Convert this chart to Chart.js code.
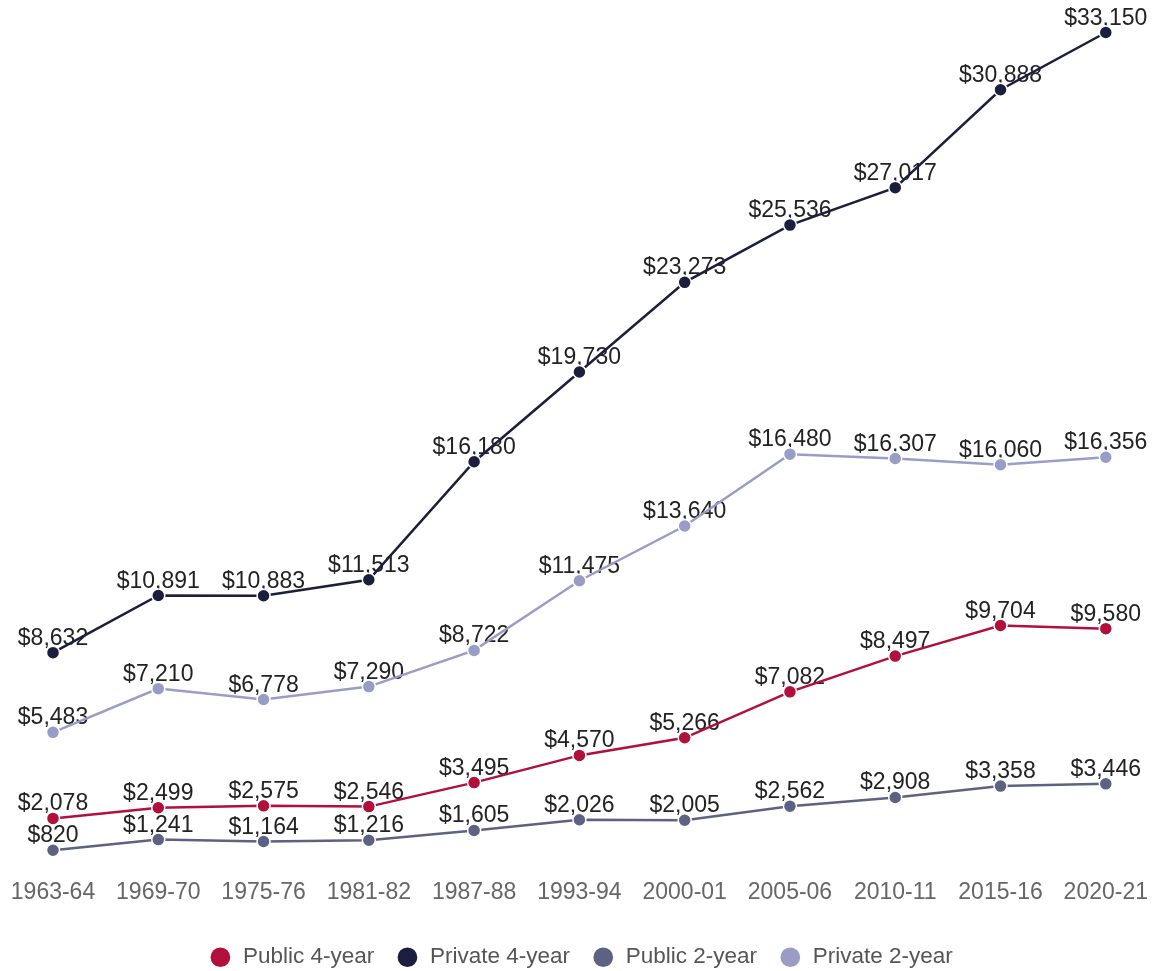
<!DOCTYPE html>
<html>
<head>
<meta charset="utf-8">
<script src="https://cdn.jsdelivr.net/npm/chart.js@4.4.1/dist/chart.umd.min.js"></script>
<style>
html,body{margin:0;padding:0;background:#fff;}
#wrap{width:1156px;height:971px;}
</style>
</head>
<body>
<div id="wrap"><canvas id="chart"></canvas></div>
<script>
const years = ["1963-64","1969-70","1975-76","1981-82","1987-88","1993-94","2000-01","2005-06","2010-11","2015-16","2020-21"];
const public4 = [2078,2499,2575,2546,3495,4570,5266,7082,8497,9704,9580];
const private4 = [8632,10891,10883,11513,16180,19730,23273,25536,27017,30888,33150];
const public2 = [820,1241,1164,1216,1605,2026,2005,2562,2908,3358,3446];
const private2 = [5483,7210,6778,7290,8722,11475,13640,16480,16307,16060,16356];

const FONT = "'Liberation Sans', Arial, sans-serif";

function series(label,data,color){
return {
label:label,
data:data,
borderColor:color,
backgroundColor:color,
pointBackgroundColor:color,
pointBorderColor:"#fff",
pointBorderWidth:1.5,
pointRadius:6.5,
pointStyle:"circle",
borderWidth:2.5,
tension:0
};
}

/* value labels above every point */
const valueLabels = {
id:"valueLabels",
beforeDatasetsDraw(chart){
const ctx = chart.ctx;
ctx.save();
ctx.font = "23px " + FONT;
ctx.fillStyle = "#222";
ctx.textAlign = "center";
ctx.textBaseline = "alphabetic";
chart.data.datasets.forEach((ds,i)=>{
chart.getDatasetMeta(i).data.forEach((pt,j)=>{
ctx.fillText("$"+ds.data[j].toLocaleString("en-US"), pt.x, pt.y-8);
});
});
ctx.restore();
}
};

/* keep legend box short so it sits near the bottom */
const legendFit = {
id:"legendFit",
beforeInit(chart){
const fit = chart.legend.fit;
chart.legend.fit = function(){
fit.call(this);
this.height = 47;
};
}
};

new Chart(document.getElementById("chart"),{
type:"line",
data:{
labels:years,
datasets:[
series("Public 4-year",public4,"#b0103a"),
series("Private 4-year",private4,"#1b1e3c"),
series("Public 2-year",public2,"#5d6182"),
series("Private 2-year",private2,"#999cc5")
]
},
options:{
responsive:true,
maintainAspectRatio:false,
animation:false,
layout:{padding:{top:11,left:53,right:47,bottom:0}},
plugins:{
legend:{
position:"bottom",
labels:{
usePointStyle:true,
boxHeight:15,
color:"#555",
padding:22,
font:{size:22.5,family:FONT}
}
},
tooltip:{enabled:false}
},
scales:{
x:{
offset:false,
grid:{display:false,drawTicks:false},
border:{display:false},
afterFit:(scale)=>{scale.height = 53;},
ticks:{
color:"#666",
padding:8,
maxRotation:0,
autoSkip:false,
font:{size:23,family:FONT}
}
},
y:{
display:false,
min:0,
max:34000
}
}
},
plugins:[valueLabels,legendFit]
});
</script>
</body>
</html>
